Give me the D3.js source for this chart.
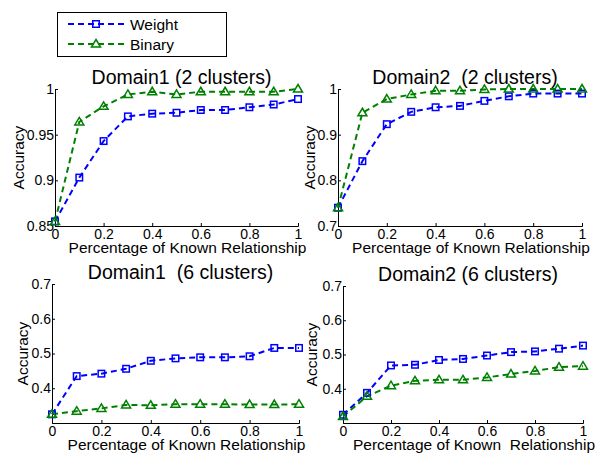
<!DOCTYPE html>
<html>
<head>
<meta charset="utf-8">
<script src="https://cdn.jsdelivr.net/npm/d3@7"></script>
<style>
  body { margin: 0; background: #fff; }
  svg text { font-family: "Liberation Sans", Arial, sans-serif; fill: #000; }
</style>
</head>
<body>
<div id="viz"></div>
<script>
(function () {
  // percentages of known relationship
  var xValues = [0, 0.1, 0.2, 0.3, 0.4, 0.5, 0.6, 0.7, 0.8, 0.9, 1];
  var xTicks = [0, 0.2, 0.4, 0.6, 0.8, 1];

  var seriesNames = ['Weight', 'Binary'];

  // Domain1 (2 clusters)
  var weightD1c2 = [0.855, 0.903, 0.943, 0.970, 0.973, 0.974, 0.977, 0.977, 0.980, 0.983, 0.989];
  var binaryD1c2 = [0.855, 0.964, 0.981, 0.994, 0.997, 0.994, 0.997, 0.997, 0.997, 0.997, 1.000];
  // Domain2 (2 clusters)
  var weightD2c2 = [0.740, 0.842, 0.923, 0.950, 0.960, 0.963, 0.974, 0.984, 0.990, 0.990, 0.990];
  var binaryD2c2 = [0.740, 0.948, 0.978, 0.988, 0.996, 0.996, 0.999, 1.000, 1.000, 1.000, 1.000];
  // Domain1 (6 clusters)
  var weightD1c6 = [0.325, 0.435, 0.442, 0.456, 0.479, 0.486, 0.489, 0.489, 0.492, 0.516, 0.516];
  var binaryD1c6 = [0.325, 0.334, 0.342, 0.352, 0.351, 0.354, 0.354, 0.354, 0.353, 0.353, 0.354];
  // Domain2 (6 clusters)
  var weightD2c6 = [0.324, 0.388, 0.468, 0.470, 0.484, 0.487, 0.497, 0.507, 0.509, 0.517, 0.526];
  var binaryD2c6 = [0.319, 0.378, 0.409, 0.423, 0.426, 0.426, 0.433, 0.443, 0.452, 0.463, 0.466];

  var yTicksD1c2 = [0.85, 0.9, 0.95, 1];
  var yTicksD2c2 = [0.7, 0.8, 0.9, 1];
  var yTicksC6 = [0.4, 0.5, 0.6, 0.7];

  var titles = ['Domain1 (2 clusters)', 'Domain2  (2 clusters)', 'Domain1  (6 clusters)', 'Domain2 (6 clusters)'];
  var xLabels = ['Percentage of Known Relationship', 'Percentage of Known Relationship',
                 'Percentage of Known Relationship', 'Percentage of Known  Relationship'];

  var colors = {'Weight': '#0000ff', 'Binary': '#008000'};

  var width = 595, height = 453;

  // panel boxes (pixels)
  var panels = [
    {x0: 55, x1: 298, y0: 89, y1: 226, domain: [0.85, 1], ticks: yTicksD1c2, fmt: d3.format('.2~f'), weight: weightD1c2, binary: binaryD1c2, ylabX: 19},
    {x0: 338, x1: 582, y0: 89, y1: 226, domain: [0.7, 1], ticks: yTicksD2c2, fmt: d3.format('.1~f'), weight: weightD2c2, binary: binaryD2c2, ylabX: 310},
    {x0: 52, x1: 299, y0: 284, y1: 423, domain: [0.3, 0.7], ticks: yTicksC6, fmt: d3.format('.1f'), weight: weightD1c6, binary: binaryD1c6, ylabX: 23},
    {x0: 343, x1: 583, y0: 286, y1: 423, domain: [0.3, 0.7], ticks: yTicksC6, fmt: d3.format('.1f'), weight: weightD2c6, binary: binaryD2c6, ylabX: 312}
  ];

  var svg = d3.select('#viz').append('svg')
    .attr('width', width)
    .attr('height', height);

  function drawMarker(g, name, cx, cy) {
    if (name === 'Weight') {
      g.append('rect')
        .attr('x', cx - 3.25).attr('y', cy - 3.25)
        .attr('width', 6.5).attr('height', 6.5)
        .attr('fill', 'none')
        .attr('stroke', colors[name])
        .attr('stroke-width', 1.5);
    } else {
      g.append('path')
        .attr('d', 'M' + cx + ',' + (cy - 4.5) + 'L' + (cx + 4.5) + ',' + (cy + 3) + 'L' + (cx - 4.5) + ',' + (cy + 3) + 'Z')
        .attr('fill', 'none')
        .attr('stroke', colors[name])
        .attr('stroke-width', 1.5);
    }
  }

  panels.forEach(function (p, i) {
    var x = d3.scaleLinear().domain([0, 1]).range([p.x0, p.x1]);
    var y = d3.scaleLinear().domain(p.domain).range([p.y1, p.y0]);
    var g = svg.append('g');

    // axes, ticks inward
    var xAxis = g.append('g')
      .attr('transform', 'translate(0,' + p.y1 + ')')
      .call(d3.axisBottom(x).tickValues(xTicks).tickSize(-3).tickPadding(5).tickFormat(d3.format('~g')));
    var yAxis = g.append('g')
      .attr('transform', 'translate(' + p.x0 + ',0)')
      .call(d3.axisLeft(y).tickValues(p.ticks).tickSize(-3).tickPadding(2).tickFormat(p.fmt));

    [xAxis, yAxis].forEach(function (a) {
      a.select('.domain').attr('stroke', '#000').attr('stroke-width', 1);
      a.selectAll('.tick line').attr('stroke', '#000');
      a.selectAll('.tick text').attr('font-size', 14).attr('fill', '#000')
        .style('font-family', '"Liberation Sans", Arial, sans-serif');
    });
    xAxis.selectAll('.tick text').attr('dy', '0.71em').attr('y', 3);
    yAxis.selectAll('.tick text').attr('x', -1);

    // series
    var rows = [{name: 'Weight', vals: p.weight}, {name: 'Binary', vals: p.binary}];
    var line = d3.line()
      .x(function (d, k) { return x(xValues[k]); })
      .y(function (d) { return y(d); });

    rows.forEach(function (r) {
      g.append('path')
        .datum(r.vals)
        .attr('fill', 'none')
        .attr('stroke', colors[r.name])
        .attr('stroke-width', 2)
        .attr('stroke-dasharray', '6,4')
        .attr('d', line);
    });
    rows.forEach(function (r) {
      r.vals.forEach(function (v, k) {
        drawMarker(g, r.name, x(xValues[k]), y(v));
      });
    });

    var cx = (p.x0 + p.x1) / 2;
    g.append('text')
      .attr('x', cx + 5)
      .attr('y', p.y0 - 5)
      .attr('text-anchor', 'middle')
      .attr('font-size', 19.5)
      .style('white-space', 'pre')
      .text(titles[i]);

    g.append('text')
      .attr('x', cx + 11)
      .attr('y', p.y1 + 26.5)
      .attr('text-anchor', 'middle')
      .attr('font-size', 15.5)
      .style('white-space', 'pre')
      .text(xLabels[i]);

    g.append('text')
      .attr('transform', 'translate(' + (p.ylabX + 5) + ',' + ((p.y0 + p.y1) / 2) + ') rotate(-90)')
      .attr('text-anchor', 'middle')
      .attr('font-size', 15.5)
      .text('Accuracy');
  });

  // legend
  var legend = svg.append('g').attr('class', 'legend');
  legend.append('rect')
    .attr('x', 57.5).attr('y', 12.5)
    .attr('width', 169).attr('height', 44)
    .attr('fill', '#fff')
    .attr('stroke', '#000')
    .attr('stroke-width', 1);

  seriesNames.forEach(function (name, k) {
    var ly = 24 + k * 20;
    legend.append('line')
      .attr('x1', 68).attr('x2', 125)
      .attr('y1', ly).attr('y2', ly)
      .attr('stroke', colors[name])
      .attr('stroke-width', 2)
      .attr('stroke-dasharray', '6,4');
    drawMarker(legend, name, 96, ly);
    legend.append('text')
      .attr('x', 130)
      .attr('y', ly + 5.5)
      .attr('font-size', 15.5)
      .text(name);
  });
})();
</script>
</body>
</html>
